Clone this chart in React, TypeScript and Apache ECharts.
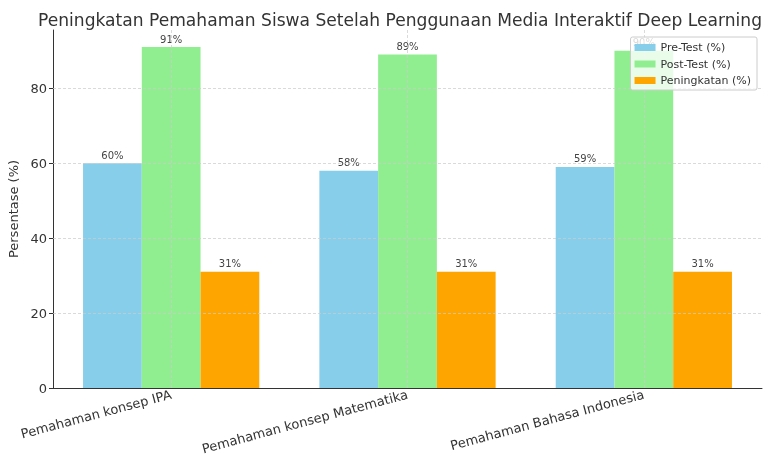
import React, { useEffect, useRef } from "react";
import * as echarts from "echarts";

const categories = ["Pemahaman konsep IPA", "Pemahaman konsep Matematika", "Pemahaman Bahasa Indonesia"];
const preTest = [60, 58, 59];
const postTest = [91, 89, 90];
const peningkatan = [31, 31, 31];
const yTicks = [0, 20, 40, 60, 80];
const seriesNames = ["Pre-Test (%)", "Post-Test (%)", "Peningkatan (%)"];
const colors = ["#87CEEB", "#90EE90", "#FFA500"];

const FONT = "DejaVu Sans";

export default function App() {
  const ref = useRef<HTMLDivElement>(null);
  useEffect(() => {
    if (!ref.current) return;
    const chart = echarts.init(ref.current, null, { renderer: "svg" });
    const gridLine = { color: "#cccccc", type: [3, 2] as any, width: 0.8, opacity: 0.9 };
    const label = {
      show: true,
      position: "top" as const,
      distance: 3,
      formatter: "{c}%",
      fontSize: 10,
      color: "#444",
      fontFamily: FONT,
    };
    const data = [preTest, postTest, peningkatan];
    const series: any[] = data.map((d, i) => ({
      name: seriesNames[i],
      type: "bar",
      data: d,
      barWidth: 58.75,
      barGap: "0%",
      itemStyle: { color: colors[i] },
      label,
      z: 2,
    }));
    series[1].markLine = {
      silent: true,
      symbol: "none",
      z: 5,
      label: { show: false },
      lineStyle: gridLine,
      data: [
        ...yTicks.filter((t) => t > 0).map((t) => ({ yAxis: t })),
        ...categories.map((c) => ({ xAxis: c })),
      ],
    };
    chart.setOption({
      animation: false,
      title: {
        text: "Peningkatan Pemahaman Siswa Setelah Penggunaan Media Interaktif Deep Learning",
        left: 33,
        top: 6,
        textStyle: { fontFamily: FONT, fontSize: 17.1, fontWeight: "normal", color: "#333" },
      },
      legend: {
        data: seriesNames,
        orient: "vertical",
        right: 20,
        top: 37,
        itemWidth: 21,
        itemHeight: 7,
        itemGap: 5.5,
        padding: [5, 6, 4, 4],
        icon: "rect",
        backgroundColor: "rgba(255,255,255,0.8)",
        borderColor: "#cccccc",
        borderWidth: 1,
        borderRadius: 2,
        z: 10,
        textStyle: { fontFamily: FONT, fontSize: 11, color: "#333" },
      },
      grid: { left: 53, right: 15, top: 30, bottom: 68, containLabel: false, outerBoundsMode: "none" },
      xAxis: {
        type: "category",
        data: categories,
        axisLine: { lineStyle: { color: "#333", width: 1 } },
        axisTick: { alignWithLabel: true, length: 4, lineStyle: { color: "#333" } },
        axisLabel: { rotate: 15, fontSize: 13, fontFamily: FONT, color: "#333", margin: 6 },
        splitLine: { show: false },
      },
      yAxis: {
        type: "value",
        min: 0,
        max: 95.55,
        name: "Persentase (%)",
        nameLocation: "middle",
        nameGap: 28,
        nameTextStyle: { fontFamily: FONT, fontSize: 13, color: "#333" },
        axisLine: { show: true, lineStyle: { color: "#333", width: 1 } },
        axisTick: { show: true, length: 4, customValues: yTicks, lineStyle: { color: "#333" } },
        axisLabel: { customValues: yTicks, fontSize: 13, fontFamily: FONT, color: "#333", margin: 6 },
        splitLine: { show: false },
      },
      series,
    });
    return () => chart.dispose();
  }, []);
  return <div ref={ref} style={{ position: "fixed", left: 0, top: 0, width: 777, height: 456 }} />;
}
